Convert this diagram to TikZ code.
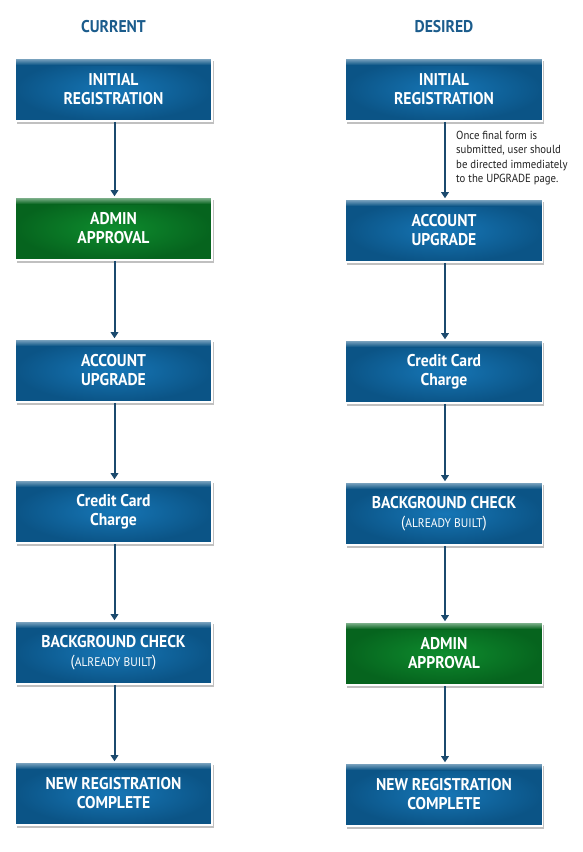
\documentclass[tikz,border=0pt]{standalone}
\usepackage{fontspec}
\setmainfont[FakeStretch=0.92]{PT Sans}
\usetikzlibrary{shadows,arrows.meta}
\definecolor{blueD}{HTML}{0B5486}
\definecolor{blueL}{HTML}{1676B6}
\definecolor{blueS}{HTML}{8AAEC6}
\definecolor{greenD}{HTML}{06641E}
\definecolor{greenL}{HTML}{0E8C2E}
\definecolor{greenS}{HTML}{90BC9C}
\definecolor{titleblue}{HTML}{1B5C8C}
\definecolor{arrowc}{HTML}{1B4A6E}
\definecolor{notec}{HTML}{222222}
\tikzset{
  box/.style={minimum width=197pt, minimum height=63pt, draw=white, line width=1.6pt,
    text=white, align=center, font=\fontsize{17}{19}\selectfont\bfseries,
    drop shadow={shadow xshift=1.5pt, shadow yshift=-2.5pt, opacity=0.35, fill=black!70}},
  bluebox/.style={box, path picture={
     \shade[inner color=blueL, outer color=blueD] (path picture bounding box.south west) rectangle (path picture bounding box.north east);
     \shade[top color=blueS, bottom color=blueD] ([yshift=-7pt]path picture bounding box.north west) rectangle (path picture bounding box.north east);}},
  greenbox/.style={box, path picture={
     \shade[inner color=greenL, outer color=greenD] (path picture bounding box.south west) rectangle (path picture bounding box.north east);
     \shade[top color=greenS, bottom color=greenD] ([yshift=-7pt]path picture bounding box.north west) rectangle (path picture bounding box.north east);}},
  flow/.style={draw=arrowc, line width=2pt, -{Triangle[length=6pt,width=7.5pt]}},
  title/.style={text=titleblue, font=\fontsize{17}{19}\selectfont\bfseries},
  note/.style={text=notec, align=left, font=\fontsize{11.7}{14.3}\selectfont, anchor=north west, inner sep=0pt}
}
\newcommand{\sub}{\mdseries\fontsize{16}{19}\selectfont(\fontsize{12.5}{19}\selectfont ALREADY BUILT\fontsize{16}{19}\selectfont)}
\begin{document}
\begin{tikzpicture}[x=1pt,y=-1pt]
\useasboundingbox[fill=white] (0,0) rectangle (582,852);
\node[title] (tl) at (113.5,27) {CURRENT};
\node[title] (tr) at (444,27) {DESIRED};
% left column
\node[bluebox] (l1) at (113.5,89.5) {INITIAL\\REGISTRATION};
\node[greenbox] (l2) at (113.5,228.5) {ADMIN\\APPROVAL};
\node[bluebox] (l3) at (113.5,370.5) {ACCOUNT\\UPGRADE};
\node[bluebox] (l4) at (113.5,511.5) {Credit Card\\Charge};
\node[bluebox] (l5) at (113.5,652.5) {BACKGROUND CHECK\\\sub};
\node[bluebox] (l6) at (113.5,793.5) {NEW REGISTRATION\\COMPLETE};
% right column
\node[bluebox] (r1) at (444,89.5) {INITIAL\\REGISTRATION};
\node[bluebox] (r2) at (444,230.5) {ACCOUNT\\UPGRADE};
\node[bluebox] (r3) at (444,371.5) {Credit Card\\Charge};
\node[bluebox] (r4) at (444,513.5) {BACKGROUND CHECK\\\sub};
\node[greenbox] (r5) at (444,653.5) {ADMIN\\APPROVAL};
\node[bluebox] (r6) at (444,794.5) {NEW REGISTRATION\\COMPLETE};
\foreach \a/\b in {l1/l2,l2/l3,l3/l4,l4/l5,l5/l6,r1/r2,r2/r3,r3/r4,r4/r5,r5/r6}
  \draw[flow] ([xshift=1pt]\a.south) -- ([xshift=1pt]\b.north);
\node[note] (n) at (456,131) {Once final form is\\submitted, user should\\be directed immediately\\to the UPGRADE page.};
\end{tikzpicture}
\end{document}
